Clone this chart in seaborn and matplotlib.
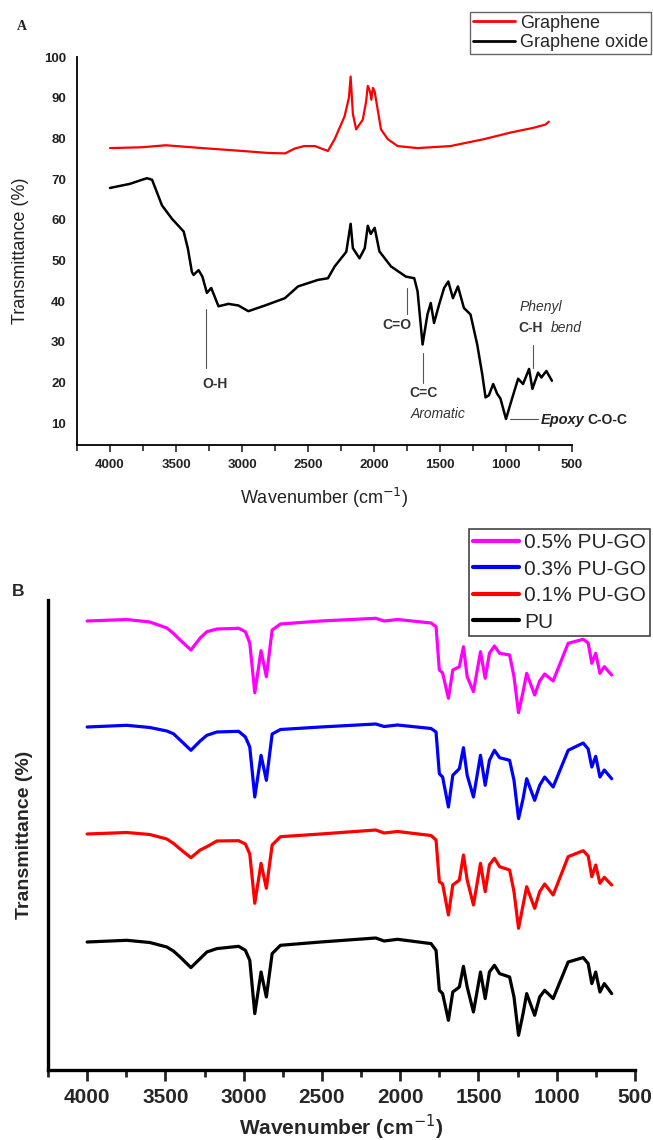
import numpy as np
import pandas as pd
import matplotlib
matplotlib.use("Agg")
import matplotlib.pyplot as plt
from matplotlib.lines import Line2D
from matplotlib.ticker import MultipleLocator
import seaborn as sns

# Panel A: FTIR of graphene and graphene oxide (wavenumber, transmittance %)
graphene_wn = [4000, 3760, 3578, 3300, 3000, 2800, 2673, 2600, 2530, 2447, 2400, 2349,
               2298, 2223, 2190, 2177, 2160, 2135, 2085, 2060, 2047, 2030, 2020, 2008,
               1995, 1947, 1896, 1821, 1670, 1421, 1167, 969, 790, 700, 675]
graphene_t = [77.6, 77.8, 78.3, 77.6, 76.9, 76.4, 76.3, 77.5, 78.1, 78.1, 77.5, 76.9,
              79.8, 85.4, 90.0, 95.2, 86.0, 82.2, 84.6, 89.0, 92.9, 91.5, 89.5, 92.4,
              91.5, 82.2, 79.8, 78.1, 77.6, 78.1, 79.8, 81.4, 82.6, 83.4, 84.1]

go_wn = [4000, 3850, 3759, 3719, 3681, 3606, 3530, 3442, 3410, 3380, 3367, 3329, 3300,
         3266, 3233, 3178, 3103, 3027, 2952, 2826, 2675, 2575, 2424, 2349, 2298, 2210,
         2177, 2160, 2110, 2070, 2047, 2025, 1995, 1959, 1871, 1758, 1695, 1670, 1632,
         1595, 1570, 1545, 1507, 1469, 1437, 1402, 1364, 1319, 1269, 1218, 1180, 1155,
         1130, 1097, 1067, 1042, 1000, 958, 908, 871, 825, 800, 757, 732, 694, 652]
go_t = [67.8, 68.8, 69.8, 70.2, 69.8, 63.5, 60.2, 57.1, 52.9, 47.2, 46.4, 47.6, 46.0,
        42.0, 43.2, 38.7, 39.3, 38.9, 37.5, 38.9, 40.7, 43.6, 45.2, 45.6, 48.5, 52.1,
        59.0, 53.0, 50.5, 53.0, 58.5, 56.5, 58.0, 52.2, 48.5, 46.0, 45.6, 42.4, 29.3,
        36.7, 39.5, 34.6, 39.1, 43.2, 44.8, 40.7, 43.6, 38.3, 36.7, 29.3, 22.0, 16.3,
        16.8, 19.6, 17.2, 16.0, 11.0, 15.6, 20.9, 19.6, 23.3, 18.4, 22.4, 21.2, 22.8, 20.4]

# Panel B: PU composites, relative transmittance (a.u.)
pu_wn = [4000, 3747, 3600, 3491, 3449, 3406, 3337, 3278, 3235, 3171, 3032, 2989, 2961,
         2929, 2889, 2855, 2818, 2765, 2508, 2156, 2103, 2017, 1803, 1771, 1750, 1729,
         1692, 1664, 1622, 1596, 1572, 1532, 1487, 1457, 1430, 1398, 1365, 1301, 1273,
         1244, 1215, 1192, 1141, 1109, 1077, 1023, 927, 831, 799, 776, 751, 724, 696, 649]
pu = [0, 1.7, -0.5, -5, -9, -15, -25.6, -16.6, -10, -6.6, -4.3, -8.3, -18.3,
      -71.6, -30, -55, -11.6, -3.3, 0, 4, 1, 2.7, -1.6, -8.3, -48.3, -51.6,
      -78.3, -50, -45, -24.3, -45, -70, -30, -56.6, -30, -23.3, -31.6, -35, -55,
      -93.3, -71.6, -51.6, -73.3, -55, -48.3, -56.6, -20, -15.6, -21.6, -41.6, -30, -50, -41.6, -51.6]
pu_go_01 = [0, 1.5, -0.5, -5, -9.3, -15, -23.7, -16, -12.7, -7, -6.7, -10, -20,
            -69.3, -29.3, -54.3, -11, -2.7, 0, 4, 1, 2.5, -1.5, -6, -47.7, -50,
            -81, -51, -46, -21, -46, -71, -29.3, -57.7, -30.7, -24.3, -32.7, -36, -57.7,
            -94.3, -71, -52.7, -74.3, -57.7, -50, -61, -22.7, -16.7, -22, -42.7, -31, -49.3, -43.3, -51]
pu_go_03 = [0, 1.7, -0.5, -4, -6.7, -13, -23.3, -14, -8.3, -5, -4.3, -10, -20,
            -70, -28.3, -53.3, -7, -2.5, 0, 3, 0.5, 2, -1.5, -5, -46.7, -50,
            -80, -48.3, -41.7, -20.7, -48.3, -70, -28.3, -58.3, -33.3, -23.3, -30.7, -33.3, -53.3,
            -91.6, -71.7, -51.7, -73.3, -58.3, -50, -60, -23.3, -16, -22, -40, -29.3, -50, -43, -51.7]
pu_go_05 = [0, 1.5, -1, -7, -12.3, -19, -29, -17, -10.7, -8, -7.3, -10.7, -22,
            -71.7, -29.7, -55.7, -9, -3, 0, 2.7, 0, 1.5, -2, -5.7, -49, -52,
            -77.3, -49, -45.7, -25.7, -55.7, -70.7, -30.7, -57.3, -32.3, -25, -32.3, -34, -55.7,
            -91.7, -70.7, -52.3, -74, -60, -53, -60, -22.3, -18.3, -22, -42.3, -32.3, -52.3, -45.7, -54]

b_labels = ["0.5% PU-GO", "0.3% PU-GO", "0.1% PU-GO", "PU"]
b_series = [pu_go_05, pu_go_03, pu_go_01, pu]
b_colors = ["#ff00ff", "#0000ff", "#ff0000", "#000000"]

sns.set_theme(style="ticks")
plt.rcParams['font.family'] = ['Liberation Sans', 'DejaVu Sans']

fig = plt.figure(figsize=(6.53, 11.4), dpi=100)

# ---------------- panel A ----------------
ax1 = fig.add_axes([77 / 653, 1 - 445 / 1140, (572 - 77) / 653, 388 / 1140])
df_g = pd.DataFrame({'wn': graphene_wn, 't': graphene_t})
df_go = pd.DataFrame({'wn': go_wn, 't': go_t})
sns.lineplot(data=df_g, x='wn', y='t', color='#ff0000', lw=1.6, ax=ax1, sort=False)
sns.lineplot(data=df_go, x='wn', y='t', color='#000000', lw=1.8, ax=ax1, sort=False)
ax1.set_xlim(4250, 500)
ax1.set_ylim(4.6, 100)
ax1.set_xticks(range(4000, 499, -500))
ax1.xaxis.set_minor_locator(MultipleLocator(250))
ax1.set_yticks(range(10, 101, 10))
sns.despine(ax=ax1)
for s in ['left', 'bottom']:
    ax1.spines[s].set_linewidth(1.3)
    ax1.spines[s].set_color('black')
ax1.tick_params(axis='x', which='major', length=5, width=1.2, labelsize=9.5, pad=5)
ax1.tick_params(axis='x', which='minor', length=4, width=1.2)
ax1.tick_params(axis='y', length=0, labelsize=9.5, pad=8)
for lab in ax1.get_xticklabels() + ax1.get_yticklabels():
    lab.set_fontweight('bold')
    lab.set_color('#222222')
ax1.set_xlabel('Wavenumber (cm$^{-1}$)', fontsize=13, color='#222222')
ax1.set_ylabel('Transmittance (%)', fontsize=13, color='#222222')
ax1.xaxis.set_label_coords(0.5, -0.105)
ax1.yaxis.set_label_coords(-0.097, 0.5)

ann = dict(color='#333333', fontsize=10, ha='center', va='center')
lc = '#555555'
ax1.plot([3270, 3270], [38.0, 23.5], color=lc, lw=0.8)
ax1.text(3205, 19.7, 'O-H', fontweight='bold', **ann)
ax1.plot([1748, 1748], [43.2, 36.7], color=lc, lw=0.8)
ax1.text(1830, 34.1, 'C=O', fontweight='bold', **ann)
ax1.plot([1626, 1626], [27.1, 19.8], color=lc, lw=0.8)
ax1.text(1626, 17.4, 'C=C', fontweight='bold', **ann)
ax1.text(1515, 12.2, 'Aromatic', style='italic', **ann)
ax1.plot([972, 757], [10.9, 10.9], color=lc, lw=0.8)
ax1.text(740, 10.8, 'Epoxy', style='italic', fontweight='bold', color='#222222',
         fontsize=10.5, ha='left', va='center', clip_on=False)
ax1.text(385, 10.8, 'C-O-C', fontweight='bold', color='#222222',
         fontsize=10, ha='left', va='center', clip_on=False)
ax1.plot([797, 797], [29.3, 23.6], color=lc, lw=0.8)
ax1.text(817, 33.4, 'C-H', fontweight='bold', **ann)
ax1.text(546, 33.4, 'bend', style='italic', **ann)
ax1.text(732, 38.5, 'Phenyl', style='italic', **ann)

fig.text(22 / 653, 1 - 27 / 1140, 'A', fontsize=10, fontweight='bold',
         family='Liberation Serif', color='#222222', ha='center', va='center')

hA = [Line2D([], [], color='#ff0000', lw=2), Line2D([], [], color='#000000', lw=2)]
legA = fig.legend(hA, ['Graphene', 'Graphene oxide'], loc='upper right',
                  bbox_to_anchor=(651 / 653, 1 - 12 / 1140), fontsize=13,
                  frameon=True, fancybox=False, edgecolor='#666666', framealpha=1,
                  borderpad=0.15, labelspacing=0.15, handlelength=2.3,
                  handletextpad=0.3, borderaxespad=0)
legA.get_frame().set_linewidth(1.0)

# ---------------- panel B ----------------
ax2 = fig.add_axes([48 / 653, 1 - 1070 / 1140, (635 - 48) / 653, 470 / 1140])
offsets = [321, 215, 108, 0]
for vals, lab, col, off in zip(b_series, b_labels, b_colors, offsets):
    d = pd.DataFrame({'wn': pu_wn, 't': np.array(vals) + off})
    sns.lineplot(data=d, x='wn', y='t', color=col, lw=2.3, ax=ax2, sort=False)
ax2.set_xlim(4250, 500)
ax2.set_ylim(-128, 342)
ax2.set_xticks(range(4000, 499, -500))
ax2.xaxis.set_minor_locator(MultipleLocator(250))
ax2.set_yticks([])
sns.despine(ax=ax2)
for s in ['left', 'bottom']:
    ax2.spines[s].set_linewidth(2.4)
    ax2.spines[s].set_color('black')
ax2.tick_params(axis='x', which='major', length=8, width=2, labelsize=15, pad=5)
ax2.tick_params(axis='x', which='minor', length=5, width=2)
for lab in ax2.get_xticklabels():
    lab.set_fontweight('bold')
ax2.set_xlabel('Wavenumber (cm$^{-1}$)', fontsize=15, fontweight='bold')
ax2.set_ylabel('Transmittance (%)', fontsize=14, fontweight='bold')
ax2.xaxis.set_label_coords(0.5, -0.09)
ax2.yaxis.set_label_coords(-0.025, 0.5)

fig.text(18 / 653, 1 - 592 / 1140, 'B', fontsize=12.5, fontweight='bold',
         ha='center', va='center')

hB = [Line2D([], [], color=c, lw=3) for c in b_colors]
legB = fig.legend(hB, b_labels, loc='upper right',
                  bbox_to_anchor=(650 / 653, 1 - 529 / 1140), fontsize=15,
                  frameon=True, fancybox=False, edgecolor='#444444', framealpha=1,
                  borderpad=0.2, labelspacing=0.36, handlelength=2.2,
                  handletextpad=0.25, borderaxespad=0)
legB.get_frame().set_linewidth(1.2)

fig.savefig('out.png', dpi=100)
